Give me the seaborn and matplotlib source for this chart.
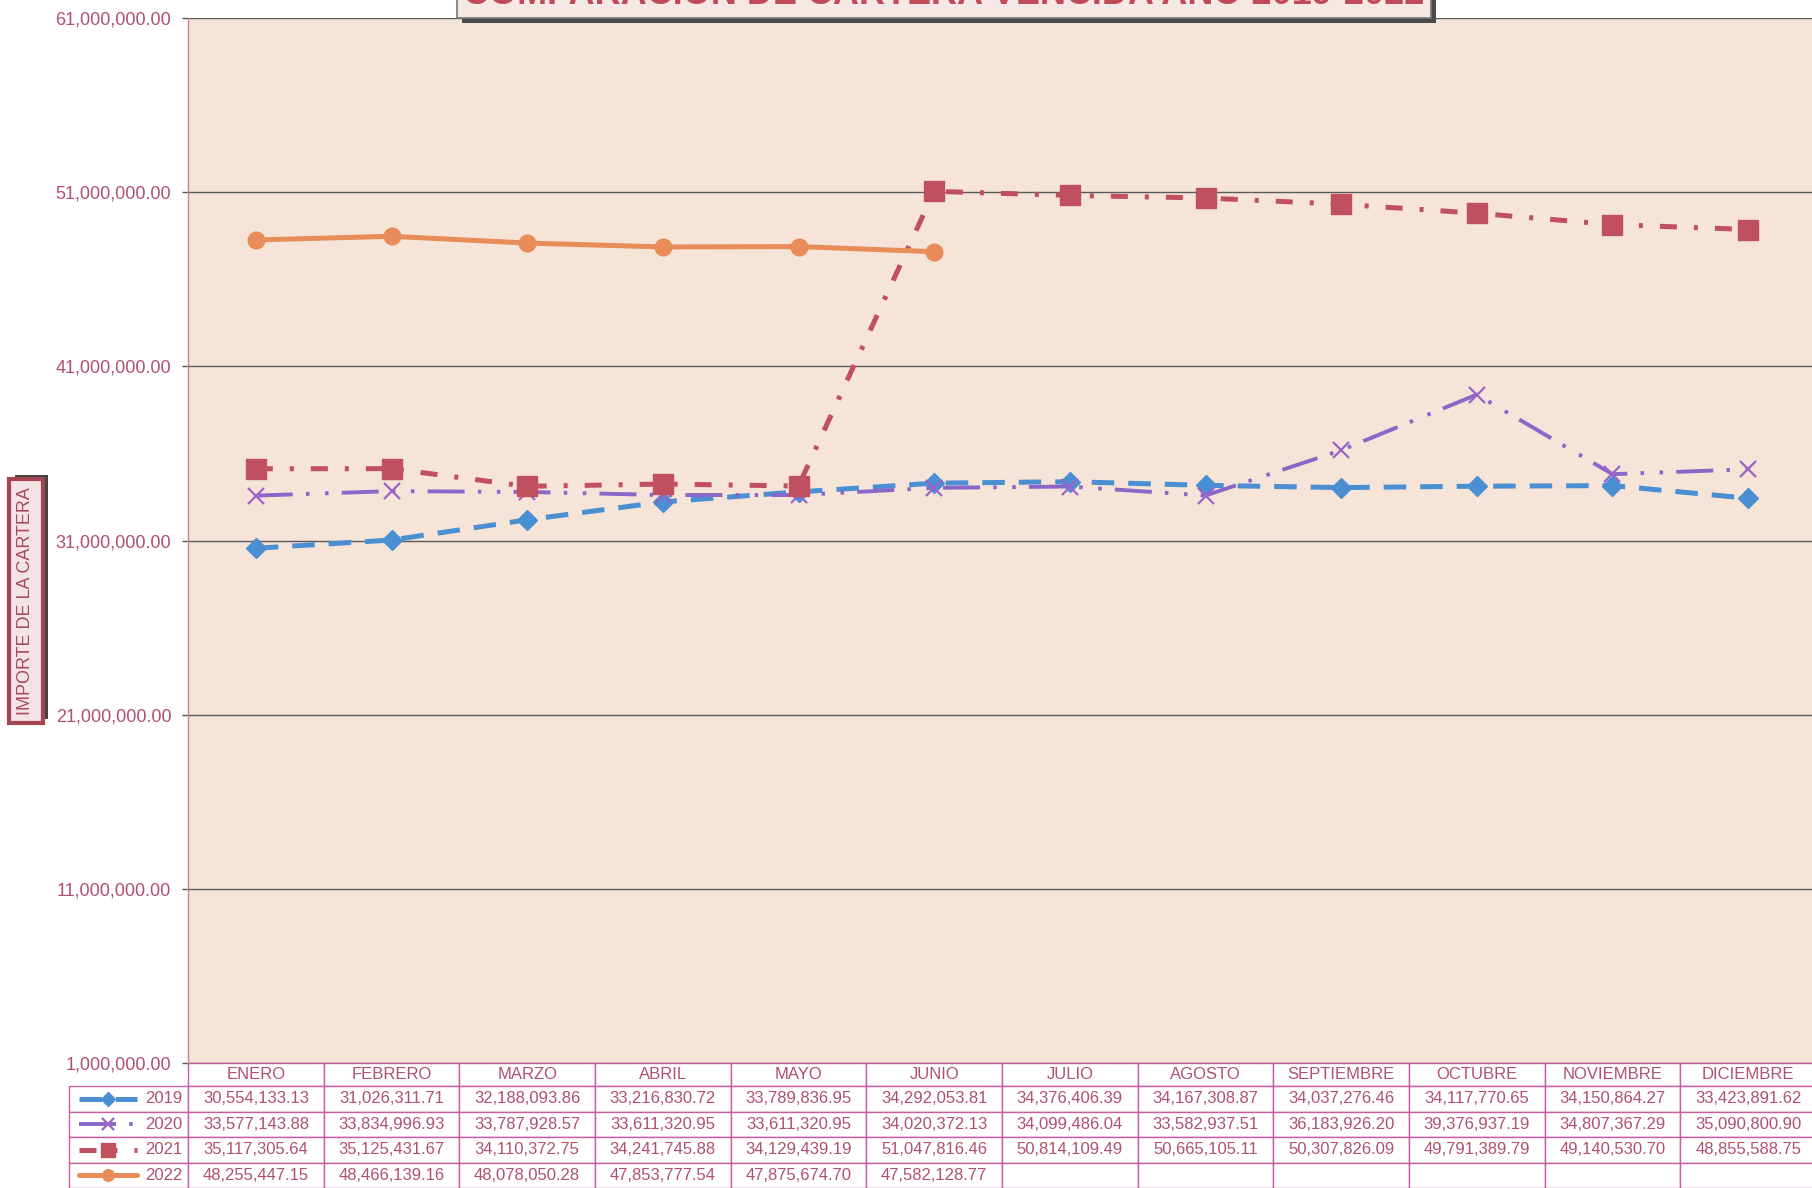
import numpy as np
import pandas as pd
import matplotlib
matplotlib.use("Agg")
import matplotlib.pyplot as plt
import matplotlib.patheffects as pe
from matplotlib.patches import Rectangle
from matplotlib.ticker import FuncFormatter
import seaborn as sns

MESES = ["ENERO", "FEBRERO", "MARZO", "ABRIL", "MAYO", "JUNIO", "JULIO",
         "AGOSTO", "SEPTIEMBRE", "OCTUBRE", "NOVIEMBRE", "DICIEMBRE"]
ANIOS = ["2019", "2020", "2021", "2022"]
CARTERA_2019 = [30554133.13, 31026311.71, 32188093.86, 33216830.72, 33789836.95, 34292053.81,
                34376406.39, 34167308.87, 34037276.46, 34117770.65, 34150864.27, 33423891.62]
CARTERA_2020 = [33577143.88, 33834996.93, 33787928.57, 33611320.95, 33611320.95, 34020372.13,
                34099486.04, 33582937.51, 36183926.20, 39376937.19, 34807367.29, 35090800.90]
CARTERA_2021 = [35117305.64, 35125431.67, 34110372.75, 34241745.88, 34129439.19, 51047816.46,
                50814109.49, 50665105.11, 50307826.09, 49791389.79, 49140530.70, 48855588.75]
CARTERA_2022 = [48255447.15, 48466139.16, 48078050.28, 47853777.54, 47875674.70, 47582128.77]
Y_TICKS = [1000000, 11000000, 21000000, 31000000, 41000000, 51000000, 61000000]

TITULO = "COMPARACIÓN DE CARTERA VENCIDA AÑO 2019-2022"
ETIQUETA_Y = "IMPORTE DE LA CARTERA"

ROSA = "#b0506c"

estilos = {
    "2019": dict(color="#4a8fd2", lw=3.6, linestyle=(0, (4.5, 2.8)),
                 marker="D", markersize=10.5, mec="#4a8fd2", mew=1),
    "2020": dict(color="#8a66c8", lw=2.8, linestyle=(0, (9.5, 3.4, 0.9, 4, 0.9, 3.4)),
                 marker="x", markersize=12, mec="#9a64c8", mew=1.6),
    "2021": dict(color="#c0505e", lw=3.6, linestyle=(0, (3.4, 3.4, 0.8, 3.4)),
                 marker="s", markersize=14, mec="#c0505e", mew=1),
    "2022": dict(color="#e88c5a", lw=3.6, linestyle="-",
                 marker="o", markersize=12, mec="#e88c5a", mew=1),
}

series = {"2019": CARTERA_2019, "2020": CARTERA_2020,
          "2021": CARTERA_2021, "2022": CARTERA_2022}
df = pd.concat([pd.DataFrame({"mes": np.arange(len(v)), "importe": v, "anio": a})
                for a, v in series.items()], ignore_index=True)

sns.set_style("white")
plt.rcParams["font.family"] = ["Liberation Sans", "DejaVu Sans"]

W, H = 1812, 1188
fig = plt.figure(figsize=(W / 100, H / 100), dpi=100, facecolor="white")

# area de trazado en pixeles
AX_L, AX_R, AX_T, AX_B = 188, 1816, 18, 1063
ax_w_px, ax_h_px = AX_R - AX_L, AX_B - AX_T
ax = fig.add_axes([AX_L / W, 1 - AX_B / H, ax_w_px / W, ax_h_px / H])
ax.set_facecolor("#f6e4d8")

for anio in ANIOS:
    sns.lineplot(data=df[df["anio"] == anio], x="mes", y="importe", ax=ax,
                 sort=False, zorder=3, **estilos[anio])

ax.set_xlim(-0.5, len(MESES) - 0.5)
ax.set_ylim(Y_TICKS[0], Y_TICKS[-1])
ax.set_yticks(Y_TICKS)
ax.yaxis.set_major_formatter(FuncFormatter(lambda v, p: f"{v:,.2f}"))
ax.set_xticks([])
ax.set_xlabel("")
ax.set_ylabel("")
ax.yaxis.grid(True, color="#5a5a5a", lw=1.0)
ax.set_axisbelow(True)
for s in ["top", "right", "bottom"]:
    ax.spines[s].set_visible(False)
ax.spines["left"].set_color("#d47f95")
ax.spines["left"].set_linewidth(1.0)
ax.tick_params(axis="y", left=True, length=4, width=1, color="#555555",
               labelcolor=ROSA, labelsize=13, pad=8)

# tabla de datos debajo de la grafica (primera columna = anio)
LABEL_W, MES_W = 119, ax_w_px / 12
HEAD_H, FILA_H = 23, 25.5
tab_h = HEAD_H + FILA_H * len(ANIOS)
celdas = []
for anio in ANIOS:
    vals = series[anio]
    celdas.append([anio] + [f"{v:,.2f}" for v in vals] + [""] * (len(MESES) - len(vals)))

tabla = ax.table(cellText=celdas, colLabels=[""] + MESES, cellLoc="center",
                 colWidths=[LABEL_W] + [MES_W] * len(MESES),
                 bbox=[-LABEL_W / ax_w_px, -tab_h / ax_h_px,
                       (LABEL_W + 12 * MES_W) / ax_w_px, tab_h / ax_h_px])
tabla.auto_set_font_size(False)
tabla.set_fontsize(12)
for (r, c), cell in tabla.get_celld().items():
    cell.set_edgecolor("#c95ca3")
    cell.set_linewidth(1.0)
    cell.set_facecolor("white")
    cell.get_text().set_color(ROSA)
    cell.set_height(HEAD_H if r == 0 else FILA_H)
    if c == 0:
        cell.get_text().set_ha("right")
        cell.PAD = 0.05
        if r == 0:
            cell.visible_edges = ""
            cell.set_facecolor("none")

# claves de leyenda dentro de la columna de anios
for i, anio in enumerate(ANIOS):
    yk = -(HEAD_H + (i + 0.5) * FILA_H) / ax_h_px
    x0, x1 = (79 - AX_L) / ax_w_px, (137 - AX_L) / ax_w_px
    st = dict(estilos[anio])
    st["markersize"] = st["markersize"] * 0.7
    ax.plot([x0, (x0 + x1) / 2, x1], [yk, yk, yk], transform=ax.transAxes,
            clip_on=False, markevery=[1], zorder=5, **st)

# etiqueta del eje y en caja con sombra
ylab = fig.text(26 / W, 1 - 601 / H, ETIQUETA_Y, color="#a84a5c", rotation=90,
                ha="center", va="center", fontsize=13,
                bbox=dict(boxstyle="square,pad=0.45", fc="#f3e3e6", ec="#a5454f", lw=3))
ylab.get_bbox_patch().set_path_effects(
    [pe.SimplePatchShadow(offset=(4, 3), shadow_rgbFace="#444444", alpha=1.0), pe.Normal()])

# titulo recortado en la parte superior, con caja y sombra
fig.add_artist(Rectangle((462 / W, 1 - 23 / H), 974 / W, 40 / H, transform=fig.transFigure,
                         fc="#4a4a4a", ec="none", zorder=4))
fig.add_artist(Rectangle((457 / W, 1 - 18 / H), 974 / W, 40 / H, transform=fig.transFigure,
                         fc="#f6e8e4", ec="#777777", lw=1.2, zorder=5))
fig.text(944 / W, 1 - 4 / H, TITULO, ha="center", va="baseline", fontsize=26,
         fontweight="bold", color="#c04a58", zorder=6)

fig.savefig("out.png", dpi=100, facecolor="white")
